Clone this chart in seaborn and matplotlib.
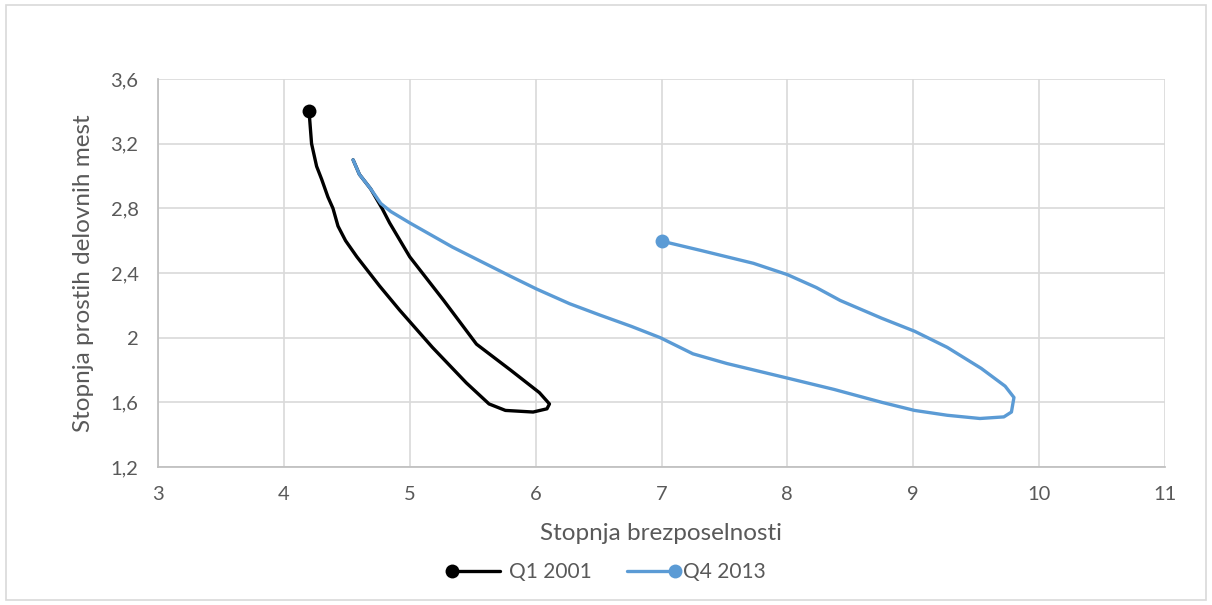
import matplotlib
matplotlib.use("Agg")
import matplotlib.pyplot as plt
import seaborn as sns
import pandas as pd
import numpy as np
from matplotlib.lines import Line2D
from matplotlib.patches import Rectangle
from matplotlib.ticker import FuncFormatter
from matplotlib.legend_handler import HandlerLine2D

# Q1 2001 series
x_q1 = [4.20, 4.22, 4.26, 4.30, 4.35, 4.39, 4.43, 4.49, 4.58, 4.76, 4.92, 5.18, 5.45,
        5.63, 5.76, 5.98, 6.09, 6.11, 6.03, 5.80, 5.53, 5.27, 5.00, 4.84, 4.78, 4.69,
        4.60, 4.55]
y_q1 = [3.40, 3.20, 3.06, 2.98, 2.87, 2.80, 2.69, 2.60, 2.50, 2.32, 2.17, 1.94, 1.72,
        1.59, 1.55, 1.54, 1.56, 1.59, 1.66, 1.80, 1.96, 2.23, 2.50, 2.71, 2.80, 2.92,
        3.01, 3.10]

# Q4 2013 series
x_q4 = [4.55, 4.60, 4.69, 4.77, 4.85, 5.00, 5.34, 5.80, 6.01, 6.27, 6.51, 6.76, 6.99,
        7.25, 7.52, 8.00, 8.37, 8.75, 9.01, 9.27, 9.53, 9.72, 9.78, 9.80, 9.73, 9.54,
        9.27, 9.01, 8.75, 8.42, 8.23, 8.00, 7.73, 7.52, 7.31, 7.04, 7.00]
y_q4 = [3.10, 3.01, 2.92, 2.83, 2.78, 2.71, 2.56, 2.38, 2.30, 2.21, 2.14, 2.07, 2.00,
        1.90, 1.84, 1.75, 1.68, 1.60, 1.55, 1.52, 1.50, 1.51, 1.54, 1.63, 1.70, 1.81,
        1.94, 2.04, 2.12, 2.23, 2.31, 2.39, 2.46, 2.50, 2.54, 2.59, 2.60]

series_labels = ["Q1 2001", "Q4 2013"]
x_ticks = [3, 4, 5, 6, 7, 8, 9, 10, 11]
y_ticks = [1.2, 1.6, 2.0, 2.4, 2.8, 3.2, 3.6]
x_title = "Stopnja brezposelnosti"
y_title = "Stopnja prostih delovnih mest"

colors = ["#000000", "#5B9BD5"]
text_color = "#595959"
grid_color = "#d9d9d9"

sns.set_theme(style="white")
plt.rcParams["font.family"] = ["Lato", "DejaVu Sans"]

fig = plt.figure(figsize=(12.12, 6.05), dpi=100)
ax = fig.add_axes([158 / 1212, 1 - 467 / 605, (1165 - 158) / 1212, (467 - 79) / 605])

df1 = pd.DataFrame({"x": x_q1, "y": y_q1})
df2 = pd.DataFrame({"x": x_q4, "y": y_q4})

common = dict(sort=False, estimator=None, ax=ax, linewidth=2.4, marker="o",
              markersize=10, markeredgewidth=0, solid_joinstyle="round",
              solid_capstyle="round")
sns.lineplot(data=df1, x="x", y="y", color=colors[0], markevery=[0], zorder=3, **common)
sns.lineplot(data=df2, x="x", y="y", color=colors[1], markevery=[-1], zorder=4, **common)

ax.set_xlim(x_ticks[0], x_ticks[-1])
ax.set_ylim(y_ticks[0], y_ticks[-1])
ax.set_xticks(x_ticks)
ax.set_yticks(y_ticks)
fmt = FuncFormatter(lambda v, p: f"{v:g}".replace(".", ","))
ax.xaxis.set_major_formatter(fmt)
ax.yaxis.set_major_formatter(fmt)
ax.grid(True, color=grid_color, linewidth=1.2)
ax.set_axisbelow(True)
for s in ax.spines.values():
    s.set_visible(False)
for side in ("left", "bottom"):
    ax.spines[side].set_visible(True)
    ax.spines[side].set_color("#bfbfbf")
ax.tick_params(axis="both", length=0, labelsize=14.5, colors=text_color)
ax.tick_params(axis="y", pad=14)
ax.tick_params(axis="x", pad=14)
ax.set_xlabel(x_title, fontsize=17.5, color=text_color, labelpad=14)
ax.set_ylabel(y_title, fontsize=17.5, color=text_color, labelpad=12)


class EndMarkerHandler(HandlerLine2D):
    def __init__(self, at_end, **kw):
        super().__init__(**kw)
        self.at_end = at_end

    def create_artists(self, legend, orig_handle, xdescent, ydescent, width, height,
                       fontsize, trans):
        xdata, _ = self.get_xdata(legend, xdescent, ydescent, width, height, fontsize)
        ydata = np.full_like(np.asarray(xdata, dtype=float), (height - ydescent) / 2)
        line = Line2D(xdata, ydata)
        self.update_prop(line, orig_handle, legend)
        line.set_marker("None")
        idx = -1 if self.at_end else 0
        mk = Line2D([xdata[idx]], [ydata[idx]])
        self.update_prop(mk, orig_handle, legend)
        mk.set_linestyle("None")
        mk.set_markevery(None)
        line.set_transform(trans)
        mk.set_transform(trans)
        return [line, mk]


h1 = Line2D([], [], color=colors[0], linewidth=2.4, marker="o", markersize=10,
            markeredgewidth=0)
h2 = Line2D([], [], color=colors[1], linewidth=2.4, marker="o", markersize=10,
            markeredgewidth=0)
leg = fig.legend([h1, h2], series_labels, loc="center", bbox_to_anchor=(0.5, 1 - 572 / 605),
                 ncol=2, frameon=False, numpoints=2, handlelength=2.9, handletextpad=0.1,
                 columnspacing=1.4, fontsize=15,
                 handler_map={h1: EndMarkerHandler(False), h2: EndMarkerHandler(True)})
for t in leg.get_texts():
    t.set_color(text_color)

fig.patches.append(Rectangle((6 / 1212, 5 / 605), 1200 / 1212, 595 / 605,
                             transform=fig.transFigure, fill=False,
                             edgecolor="#d9d9d9", linewidth=1.2))

fig.savefig("out.png", dpi=100)
